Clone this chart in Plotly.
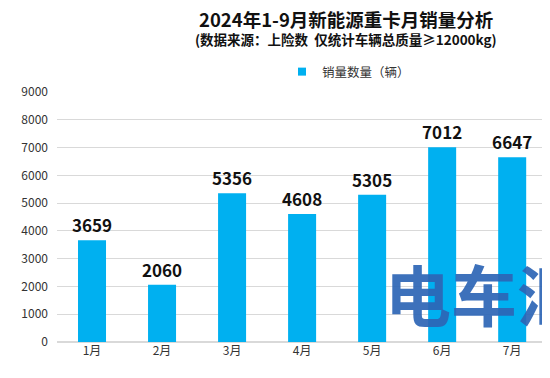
import plotly.graph_objects as go

months = ["1月", "2月", "3月", "4月", "5月", "6月", "7月"]
sales = [3659, 2060, 5356, 4608, 5305, 7012, 6647]
y_ticks = [0, 1000, 2000, 3000, 4000, 5000, 6000, 7000, 8000, 9000]

FONT = "Noto Sans CJK SC"
# page body has an 8px default margin, so the figure is sized to fit the window
W, H = 542, 370
L, T, B = 49, 84, 36
PW = W - L

fig = go.Figure()
fig.add_trace(go.Bar(
    x=months, y=sales, name="销量数量（辆）", showlegend=False,
    marker=dict(color="#00B0F0", line=dict(width=0)),
    width=0.4,
    text=[str(v) for v in sales], textposition="outside", constraintext="none",
    textfont=dict(family=FONT, size=17, color="#111111", weight="bold"),
    cliponaxis=False,
))
# legend entry
fig.add_trace(go.Scatter(
    x=[None], y=[None], mode="markers", name="销量数量（辆）",
    marker=dict(symbol="square", size=8, color="#00B0F0"),
))

fig.update_layout(
    width=W, height=H,
    margin=dict(l=L, r=0, t=T, b=B, autoexpand=False),
    paper_bgcolor="white", plot_bgcolor="white",
    font=dict(family=FONT, size=12, color="#333333"),
    showlegend=True,
    legend=dict(orientation="h", x=(274-L)/PW, xanchor="left", y=1.08, yanchor="middle",
                font=dict(size=12.5, color="#333333"), itemwidth=30,
                bgcolor="rgba(0,0,0,0)"),
    xaxis=dict(range=[-0.5, 6.54], showgrid=False, showline=False, ticks="",
               automargin=False, tickfont=dict(size=12, color="#333333")),
    yaxis=dict(range=[0, 9000], tickvals=y_ticks, showgrid=True, gridcolor="#D9D9D9",
               gridwidth=1, zeroline=True, zerolinecolor="#D9D9D9", ticks="",
               automargin=False, tickfont=dict(size=12, color="#333333"),
               ticklabelstandoff=8),
    bargap=0.6,
)

fig.add_annotation(text="<b>2024年1-9月新能源重卡月销量分析</b>", xref="paper", yref="paper",
                   x=(338-L)/PW, y=1.0, yanchor="middle", xanchor="center",
                   yshift=73, showarrow=False,
                   font=dict(family=FONT, size=18.5, color="#111111"))
fig.add_annotation(text="<b>(数据来源：上险数  仅统计车辆总质量≥12000kg)</b>", xref="paper", yref="paper",
                   x=(338-L)/PW, y=1.0, yanchor="middle", xanchor="center",
                   yshift=53, showarrow=False,
                   font=dict(family=FONT, size=13.5, color="#111111"))
# watermark
fig.add_annotation(text="<b>电车汇</b>", xref="paper", yref="paper",
                   x=(375-L)/PW, y=(334-292)/250, xanchor="left", yanchor="middle",
                   yshift=8, showarrow=False,
                   font=dict(family=FONT, size=66, color="rgba(44,101,181,0.92)"))

fig.write_html("out.html")
